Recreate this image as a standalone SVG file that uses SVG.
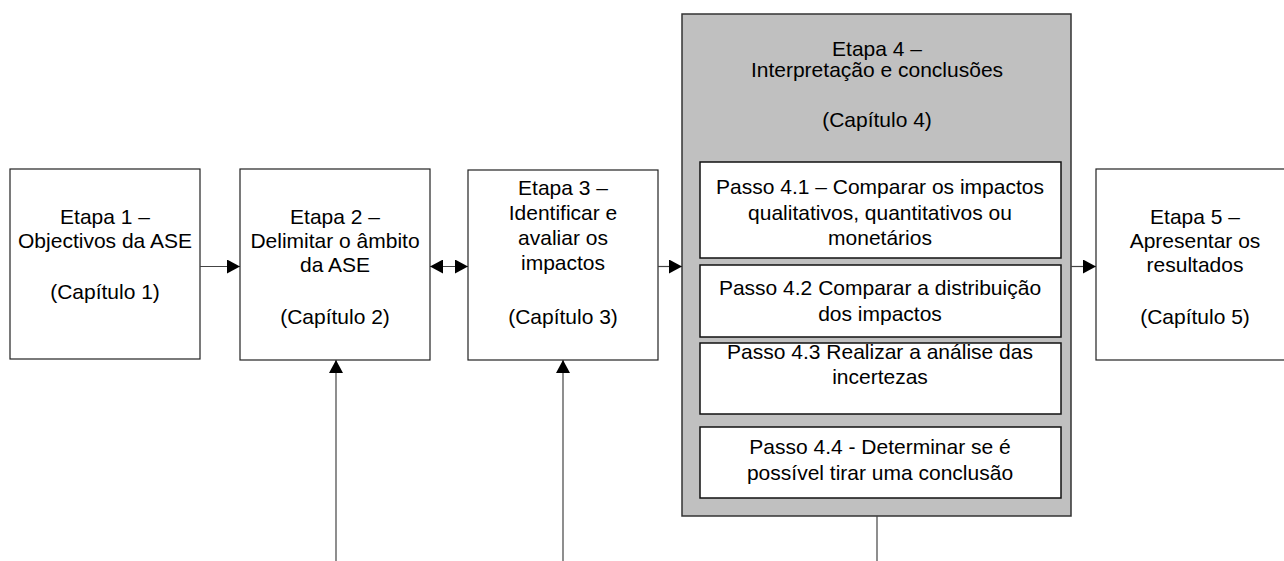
<svg xmlns="http://www.w3.org/2000/svg" width="1284" height="561" viewBox="0 0 1284 561">
  <defs>
    <marker id="head" viewBox="0 0 13 14" refX="13" refY="7" markerWidth="13" markerHeight="14" markerUnits="userSpaceOnUse" orient="auto-start-reverse">
      <path d="M0,0 L13,7 L0,14 Z" fill="#000"/>
    </marker>
    <style>
      .box { fill: #fff; stroke: #222; stroke-width: 1.2; }
      .stage { fill: #c0c0c0; stroke: #333; stroke-width: 1.5; }
      .step { fill: #fff; stroke: #111; stroke-width: 1.5; }
      text { font-family: "Liberation Sans", Arial, sans-serif; font-size: 21px; fill: #000; text-anchor: middle; }
      .link { stroke: #444; stroke-width: 1.2; fill: none; }
    </style>
  </defs>
  <rect width="1284" height="561" fill="#fff"/>

  <g id="etapa1">
    <rect class="box" x="10" y="169" width="190" height="190"/>
    <text x="105" y="224">Etapa 1 –</text>
    <text x="105" y="248">Objectivos da ASE</text>
    <text x="105" y="299">(Capítulo 1)</text>
  </g>

  <g id="etapa2">
    <rect class="box" x="240" y="169" width="190" height="191"/>
    <text x="335" y="224">Etapa 2 –</text>
    <text x="335" y="248">Delimitar o âmbito</text>
    <text x="335" y="272">da ASE</text>
    <text x="335" y="324">(Capítulo 2)</text>
  </g>

  <g id="etapa3">
    <rect class="box" x="468" y="170" width="190" height="190"/>
    <text x="563" y="195">Etapa 3 –</text>
    <text x="563" y="220">Identificar e</text>
    <text x="563" y="245">avaliar os</text>
    <text x="563" y="270">impactos</text>
    <text x="563" y="324">(Capítulo 3)</text>
  </g>

  <g id="etapa4">
    <rect class="stage" x="682" y="14" width="389" height="502"/>
    <text x="877" y="56">Etapa 4 –</text>
    <text x="877" y="77">Interpretação e conclusões</text>
    <text x="877" y="127">(Capítulo 4)</text>
  </g>

  <g id="passo41">
    <rect class="step" x="700" y="162" width="361" height="96"/>
    <text x="880" y="194">Passo 4.1 – Comparar os impactos</text>
    <text x="880" y="219.5">qualitativos, quantitativos ou</text>
    <text x="880" y="245">monetários</text>
  </g>

  <g id="passo42">
    <rect class="step" x="700" y="265" width="361" height="72"/>
    <text x="880" y="295">Passo 4.2 Comparar a distribuição</text>
    <text x="880" y="320.5">dos impactos</text>
  </g>

  <g id="passo43">
    <rect class="step" x="700" y="343" width="361" height="71"/>
    <text x="880" y="359">Passo 4.3 Realizar a análise das</text>
    <text x="880" y="384">incertezas</text>
  </g>

  <g id="passo44">
    <rect class="step" x="700" y="427" width="361" height="71"/>
    <text x="880" y="454">Passo 4.4 - Determinar se é</text>
    <text x="880" y="480">possível tirar uma conclusão</text>
  </g>

  <g id="etapa5">
    <rect class="box" x="1096" y="169" width="200" height="191"/>
    <text x="1195" y="224">Etapa 5 –</text>
    <text x="1195" y="248">Apresentar os</text>
    <text x="1195" y="272">resultados</text>
    <text x="1195" y="324">(Capítulo 5)</text>
  </g>

  <g id="connectors">
    <line class="link" x1="200" y1="266.5" x2="240" y2="266.5" marker-end="url(#head)"/>
    <line class="link" x1="430" y1="266.5" x2="468" y2="266.5" marker-start="url(#head)" marker-end="url(#head)"/>
    <line class="link" x1="658" y1="266.5" x2="682" y2="266.5" marker-end="url(#head)"/>
    <line class="link" x1="1071" y1="266.5" x2="1096" y2="266.5" marker-end="url(#head)"/>
    <line class="link" x1="336" y1="561" x2="336" y2="360" marker-end="url(#head)"/>
    <line class="link" x1="563" y1="561" x2="563" y2="360" marker-end="url(#head)"/>
    <line class="link" x1="877" y1="516" x2="877" y2="561"/>
  </g>
</svg>
